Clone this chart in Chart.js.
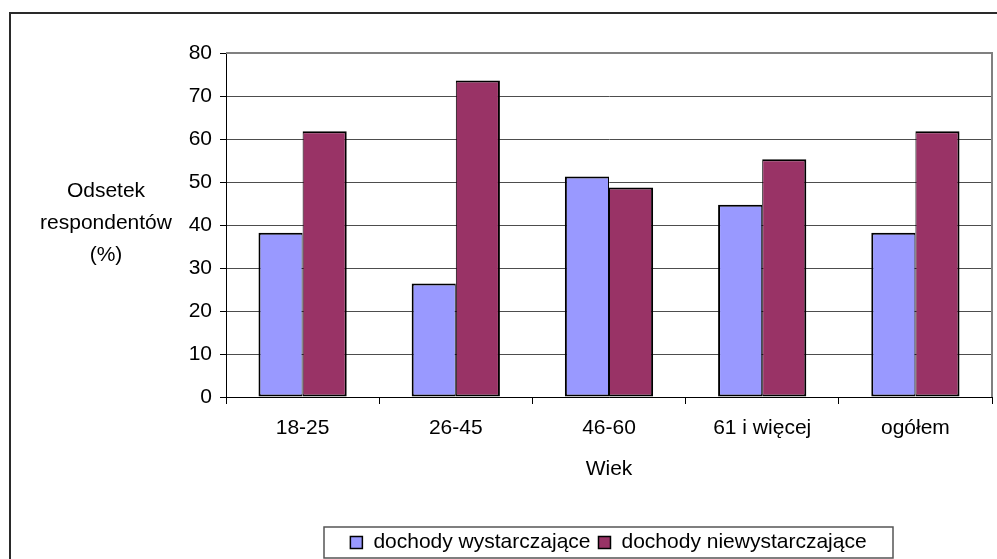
<!DOCTYPE html>
<html>
<head>
<meta charset="utf-8">
<script src="https://cdn.jsdelivr.net/npm/chart.js@4/dist/chart.umd.min.js"></script>
<style>
  html, body { margin: 0; padding: 0; background: #fff; }
  #wrap { width: 997px; height: 559px; position: relative; }
</style>
</head>
<body>
<div id="wrap"><canvas id="chart"></canvas></div>
<script>
// Age groups and share of respondents (%) by income adequacy
const categories = ['18-25', '26-45', '46-60', '61 i więcej', 'ogółem'];
const sufficient = [38.2, 26.4, 51.3, 44.7, 38.2];
const insufficient = [61.8, 73.6, 48.7, 55.3, 61.8];
const seriesNames = ['dochody wystarczające', 'dochody niewystarczające'];
const seriesColors = ['#9999FF', '#993366'];
const yTitleLines = ['Odsetek', 'respondentów', '(%)'];
const xTitle = 'Wiek';
const yMin = 0, yMax = 80, yStep = 10;

const FONT = '"Liberation Sans", Arial, sans-serif';
const FS = 21;

// Outer frame, plot border, horizontal y-axis title and boxed legend
const decorations = {
  id: 'decorations',
  beforeDraw(chart) {
    const ctx = chart.ctx;
    ctx.save();
    ctx.fillStyle = '#fff';
    ctx.fillRect(0, 0, chart.width, chart.height);
    ctx.strokeStyle = '#2a2a2a';
    ctx.lineWidth = 2;
    ctx.beginPath();
    ctx.moveTo(10, chart.height + 2);
    ctx.lineTo(10, 13);
    ctx.lineTo(chart.width + 2, 13);
    ctx.stroke();
    ctx.restore();
  },
  beforeDatasetsDraw(chart) {
    const { ctx, chartArea: a } = chart;
    ctx.save();
    ctx.strokeStyle = '#808080';
    ctx.lineWidth = 2;
    ctx.beginPath();
    ctx.moveTo(a.left, a.top);
    ctx.lineTo(a.right, a.top);
    ctx.lineTo(a.right, a.bottom);
    ctx.stroke();
    ctx.restore();
  },
  afterDraw(chart) {
    const ctx = chart.ctx;
    ctx.save();
    ctx.font = FS + 'px ' + FONT;
    ctx.fillStyle = '#000';
    ctx.textAlign = 'center';
    ctx.textBaseline = 'middle';
    const ty = [191, 223, 255];
    yTitleLines.forEach((t, i) => ctx.fillText(t, 106, ty[i]));

    // legend
    const box = { x: 324, y: 527, w: 569, h: 31 };
    ctx.strokeStyle = '#555';
    ctx.lineWidth = 1.5;
    ctx.strokeRect(box.x, box.y, box.w, box.h);
    const sq = 12, gap = 11, itemGap = 8;
    const items = chart.data.datasets.map(ds => ({
      label: ds.label, color: ds.backgroundColor, w: sq + gap + ctx.measureText(ds.label).width
    }));
    const total = items.reduce((s, it) => s + it.w, 0) + itemGap * (items.length - 1);
    let x = box.x + (box.w - total) / 2;
    const cy = box.y + box.h / 2;
    ctx.textAlign = 'left';
    items.forEach(it => {
      ctx.fillStyle = it.color;
      ctx.fillRect(x, cy - sq / 2, sq, sq);
      ctx.strokeStyle = '#000';
      ctx.lineWidth = 1.5;
      ctx.strokeRect(x, cy - sq / 2, sq, sq);
      ctx.fillStyle = '#000';
      ctx.fillText(it.label, x + sq + gap, cy);
      x += it.w + itemGap;
    });
    ctx.restore();
  }
};

new Chart(document.getElementById('chart'), {
  type: 'bar',
  data: {
    labels: categories,
    datasets: [
      { label: seriesNames[0], data: sufficient, backgroundColor: seriesColors[0],
        borderWidth: { top: 2, left: 2, bottom: 2, right: 1 } },
      { label: seriesNames[1], data: insufficient, backgroundColor: seriesColors[1],
        borderWidth: { top: 2, left: 1, bottom: 2, right: 2 } }
    ]
  },
  options: {
    responsive: true,
    maintainAspectRatio: false,
    animation: false,
    layout: { padding: { top: 53, right: 5, bottom: 0, left: 0 } },
    datasets: {
      bar: {
        categoryPercentage: 0.576,
        barPercentage: 1,
        borderColor: '#000',
        borderSkipped: false
      }
    },
    plugins: {
      legend: { display: false },
      tooltip: { enabled: false }
    },
    scales: {
      x: {
        afterFit(s) { s.height = 162; },
        grid: { display: true, drawOnChartArea: false, offset: true, tickLength: 7, tickColor: '#000', tickWidth: 1 },
        border: { display: true, color: '#000', width: 1 },
        ticks: { color: '#000', padding: 12, font: { family: FONT, size: FS } },
        title: { display: true, text: xTitle, color: '#000', font: { family: FONT, size: FS }, padding: { top: 0, bottom: 77 } }
      },
      y: {
        min: yMin,
        max: yMax,
        afterFit(s) { s.width = 226; },
        grid: { color: '#4d4d4d', lineWidth: 1, tickLength: 6, tickColor: '#000' },
        border: { display: true, color: '#000', width: 1 },
        ticks: { stepSize: yStep, color: '#000', padding: 8, font: { family: FONT, size: FS } }
      }
    }
  },
  plugins: [decorations]
});
</script>
</body>
</html>
